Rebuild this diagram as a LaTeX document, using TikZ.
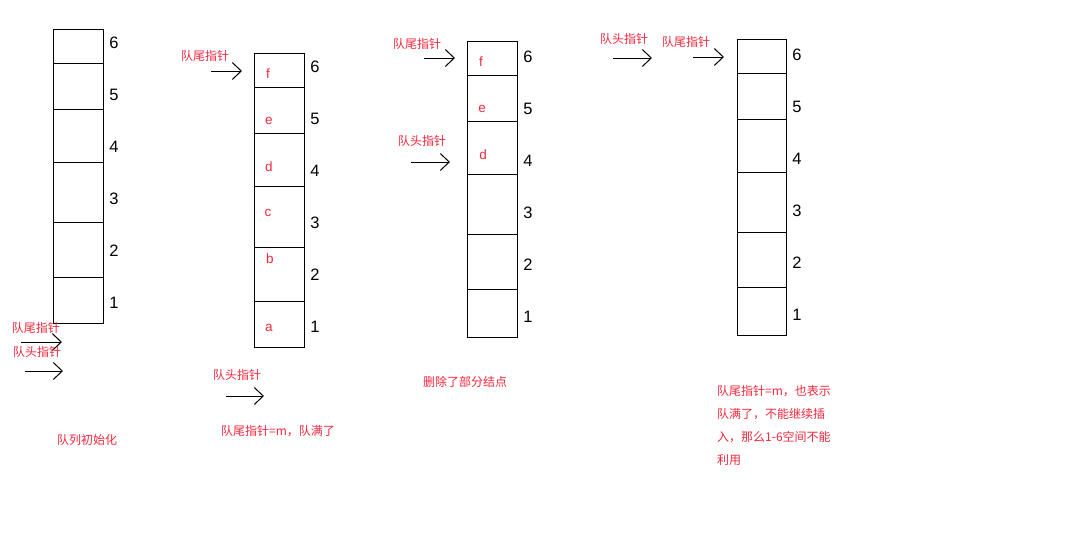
\documentclass[tikz,border=0pt]{standalone}
\usepackage{fontspec}
\setmainfont{Liberation Sans}
\newfontfamily\cjk{Noto Sans CJK SC}
\usetikzlibrary{arrows.meta}
\definecolor{labelred}{RGB}{240,40,60}

\begin{document}
\begin{tikzpicture}[x=1pt,y=-1pt,>={Straight Barb[length=9pt,width=17pt]},
    every node/.style={inner sep=0pt},
    cell/.style={line width=1pt},
    idx/.style={font=\fontsize{16.5}{16.5}\selectfont},
    elem/.style={text=labelred,font=\fontsize{13.5}{13.5}\selectfont},
    ptr/.style={text=labelred,font=\cjk\fontsize{12}{12}\selectfont},
    note/.style={text=labelred,font=\cjk\fontsize{12}{23}\selectfont,align=left},
    pointer/.style={->,line width=1pt}]
        \useasboundingbox (0,0) rectangle (1066,539);

        % draw the four queues with their slot numbers
        \foreach \q/\l/\r/\t/\b/\dividers in {
            1/53/103/29/323/{63,109,162,222,277},
            2/254/304/53/347/{87,133,186,247,301},
            3/467/517/41/337/{75,121,174,234,289},
            4/737/786/39/335/{73,119,172,232,287}} {
                \draw[cell] (\l,\t) rectangle (\r,\b);
                \foreach \y in \dividers
                        \draw[cell] (\l,\y) -- (\r,\y);
                \foreach \n in {1,...,6}
                        \node[idx] (q\q-\n) at (\r+11,\b-20-\n*52+52) {\n};
        }

        % draw the stored elements
        \foreach \name/\x/\y/\txt in {
            f2/268/74/f, e2/269/121/e, d2/269/167/d,
            c2/268/213/c, b2/270/259/b, a2/269/328/a,
            f3/481/62/f, e3/482/109/e, d3/483/155/d}
                \node[elem] (\name) at (\x,\y) {\txt};

        % draw the head and rear pointers
        \foreach \name/\tx/\ty/\sx/\ex/\ay/\txt in {
            rear1/36/328/21/62/342/队尾指针,
            front1/37/352/25/63/371/队头指针,
            rear2/205/56/211/242/71/队尾指针,
            front2/237/375/226/264/396/队头指针,
            rear3/417/44/424/455/58/队尾指针,
            front3/422/141/411/450/162/队头指针,
            front4/624/39/613/652/58/队头指针,
            rear4/686/42/693/724/57/队尾指针} {
                \node[ptr] (\name) at (\tx,\ty) {\txt};
                \coordinate (\name-s) at (\sx,\ay);
                \coordinate (\name-e) at (\ex,\ay);
                \draw[pointer] (\name-s) -- (\name-e);
        }

        % draw the captions
        \node[ptr] (cap1) at (87,440) {队列初始化};
        \node[ptr] (cap2) at (278,431) {队尾指针=m，队满了};
        \node[ptr] (cap3) at (465,382) {删除了部分结点};
        \node[note,anchor=north west] (cap4) at (717,385)
                {队尾指针=m，也表示\\队满了，不能继续插\\入，那么1-6空间不能\\利用};
\end{tikzpicture}
\end{document}
